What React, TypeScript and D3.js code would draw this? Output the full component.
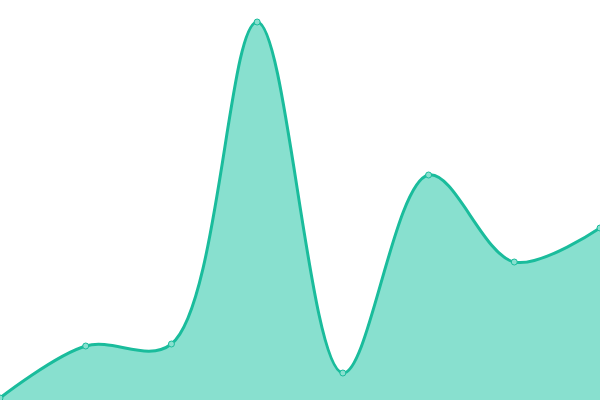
import React from 'react';
import * as d3 from 'd3';

const categories = ['A', 'B', 'C', 'D', 'E', 'F', 'G', 'H'];
const values = [2, 54, 56, 378, 27, 225, 138, 172];

const width = 600;
const height = 400;

export default function App() {
    const x = d3.scalePoint<string>().domain(categories).range([0, width]);
    const y = d3.scaleLinear().domain([0, 400]).range([height, 0]);

    const curve = d3.curveCatmullRom.alpha(0.5);
    const line = d3.line<number>()
        .x((_, i) => x(categories[i]) as number)
        .y((d) => y(d))
        .curve(curve);
    const area = d3.area<number>()
        .x((_, i) => x(categories[i]) as number)
        .y0(height)
        .y1((d) => y(d))
        .curve(curve);

    return (
        <svg
            width={width}
            height={height}
            style={{ position: 'fixed', left: 0, top: 0, background: '#fff' }}
        >
            <path d={area(values) ?? ''} fill="#88e0cf" />
            <path d={line(values) ?? ''} fill="none" stroke="#1abc9c" strokeWidth={3} />
            {values.map((v, i) => (
                <circle
                    key={i}
                    cx={x(categories[i])}
                    cy={y(v)}
                    r={3}
                    fill="#88e0cf"
                    stroke="#1abc9c"
                    strokeWidth={1}
                />
            ))}
        </svg>
    );
}
